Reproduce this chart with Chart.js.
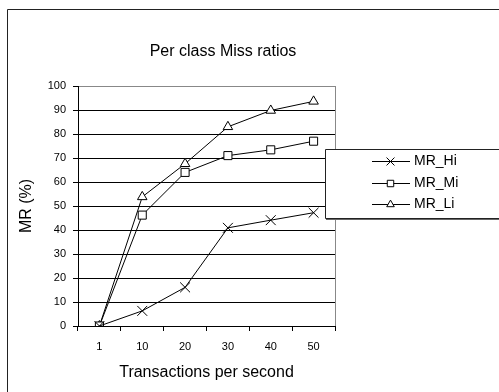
<!DOCTYPE html>
<html>
<head>
<meta charset="utf-8">
<script src="https://cdn.jsdelivr.net/npm/chart.js@4/dist/chart.umd.min.js"></script>
<style>
html,body{margin:0;padding:0;background:#fff;}
#wrap{width:499px;height:392px;}
</style>
</head>
<body>
<div id="wrap"><canvas id="c" width="499" height="392"></canvas></div>
<script>
const categories = ['1', '10', '20', '30', '40', '50'];
const mrHi = [0, 6.3, 16.1, 40.9, 44.1, 47.2];
const mrMi = [0, 46.2, 64.0, 71.0, 73.4, 77.0];
const mrLi = [0, 53.8, 67.6, 83.0, 89.8, 93.6];
const yTicks = [0, 10, 20, 30, 40, 50, 60, 70, 80, 90, 100];
const seriesNames = ['MR_Hi', 'MR_Mi', 'MR_Li'];
const chartTitle = 'Per class Miss ratios';
const xTitle = 'Transactions per second';
const yTitle = 'MR (%)';

const FONT = "'Liberation Sans', Arial, sans-serif";
Chart.defaults.font.family = FONT;
Chart.defaults.font.size = 11;
Chart.defaults.color = '#000';

const styles = [
  {pointStyle: 'crossRot', radius: 7},
  {pointStyle: 'rect', radius: 5.7},
  {pointStyle: 'triangle', radius: 5.5}
];
const seriesData = [mrHi, mrMi, mrLi];

const datasets = seriesData.map((d, i) => ({
  label: seriesNames[i],
  data: d,
  borderColor: '#000',
  borderWidth: 1,
  backgroundColor: '#fff',
  pointStyle: styles[i].pointStyle,
  pointRadius: styles[i].radius,
  pointBorderColor: '#000',
  pointBackgroundColor: '#fff',
  pointBorderWidth: 1,
  tension: 0,
  fill: false
}));

const decor = {
  id: 'decor',
  beforeDraw(chart) {
    const ctx = chart.ctx;
    ctx.save();
    ctx.fillStyle = '#fff';
    ctx.fillRect(0, 0, chart.width, chart.height);
    ctx.restore();
  },
  afterDraw(chart) {
    const ctx = chart.ctx;
    const a = chart.chartArea;
    ctx.save();
    ctx.strokeStyle = '#888';
    ctx.lineWidth = 1;
    ctx.beginPath();
    ctx.moveTo(Math.round(a.right) + 0.5, a.top);
    ctx.lineTo(Math.round(a.right) + 0.5, a.bottom);
    ctx.stroke();
    ctx.strokeStyle = '#222';
    ctx.beginPath();
    ctx.rect(7.5, 9.5, 600, 500);
    ctx.stroke();
    ctx.fillStyle = '#000';
    ctx.font = '16px ' + FONT;
    ctx.textAlign = 'center';
    ctx.textBaseline = 'middle';
    ctx.fillText(chartTitle, 223, 52);
    ctx.fillStyle = '#fff';
    ctx.fillRect(325, 149, 200, 70);
    ctx.strokeStyle = '#222';
    ctx.beginPath();
    ctx.rect(325.5, 149.5, 200, 69);
    ctx.stroke();
    ctx.beginPath();
    ctx.moveTo(326, 219.5);
    ctx.lineTo(499, 219.5);
    ctx.strokeStyle = '#666';
    ctx.stroke();
    const rows = [161, 182.5, 203.5];
    chart.data.datasets.forEach((ds, i) => {
      const y = rows[i];
      ctx.strokeStyle = '#000';
      ctx.lineWidth = 1;
      ctx.beginPath();
      ctx.moveTo(372, Math.round(y) + 0.5);
      ctx.lineTo(410, Math.round(y) + 0.5);
      ctx.stroke();
      ctx.fillStyle = '#fff';
      if (Chart.helpers && Chart.helpers.drawPoint) {
        Chart.helpers.drawPoint(ctx, {pointStyle: ds.pointStyle, radius: ds.pointRadius * 0.8, rotation: 0, borderWidth: 1}, 390.5, Math.round(y) + 0.5);
      }
      ctx.fillStyle = '#000';
      ctx.font = '14px ' + FONT;
      ctx.textAlign = 'left';
      ctx.textBaseline = 'middle';
      ctx.fillText(ds.label, 414, y + 0.5);
    });
    ctx.restore();
  }
};

new Chart(document.getElementById('c'), {
  type: 'line',
  data: {labels: categories, datasets},
  options: {
    responsive: false,
    animation: false,
    devicePixelRatio: 1,
    layout: {padding: {left: 0, top: 86, right: 164, bottom: 0}},
    plugins: {legend: {display: false}, title: {display: false}, tooltip: {enabled: false}},
    elements: {line: {borderWidth: 1}},
    scales: {
      x: {
        type: 'category',
        offset: true,
        grid: {offset: true, drawOnChartArea: false, drawTicks: true, tickLength: 5, color: '#000', tickColor: '#000'},
        border: {display: true, color: '#000', width: 1},
        ticks: {padding: 9, maxRotation: 0, autoSkip: false, font: {size: 11}},
        title: {display: true, text: xTitle, font: {size: 16}, padding: {top: 0, bottom: 9.4}},
        afterFit(s) { s.height = 66; }
      },
      y: {
        min: 0, max: 100,
        afterBuildTicks(s) { s.ticks = yTicks.map(v => ({value: v})); },
        grid: {
          drawTicks: true, tickLength: 5,
          color: ctx => (ctx.tick && ctx.tick.value === 100) ? '#888' : '#000',
          tickColor: '#000'
        },
        border: {display: true, color: '#000', width: 1},
        ticks: {padding: 7, font: {size: 11}},
        title: {display: true, text: yTitle, font: {size: 16}, padding: {top: 17.4, bottom: 0}},
        afterFit(s) { s.width = 78; }
      }
    }
  },
  plugins: [decor]
});
</script>
</body>
</html>
